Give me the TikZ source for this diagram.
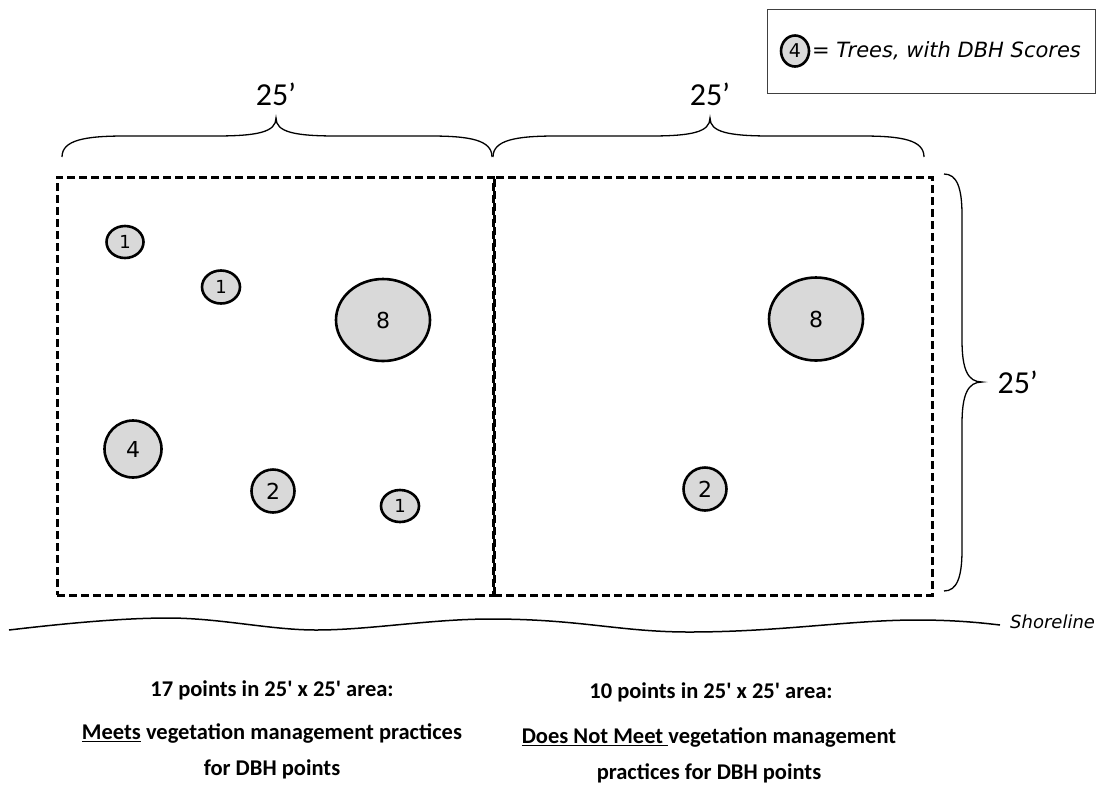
\documentclass[tikz,border=0pt]{standalone}
\usepackage{fontspec}
\usetikzlibrary{shapes.geometric}
\newfontfamily\verdfont{DejaVu Sans}
\newfontfamily\califont{Carlito}
\begin{document}
\begin{tikzpicture}[x=1pt,y=-1pt,
  tree/.style={ellipse,draw=black,line width=2.6pt,fill=black!15,inner sep=0pt,font=\verdfont\fontsize{22}{24}\selectfont},
  smalltree/.style={tree,font=\verdfont\fontsize{18}{20}\selectfont},
  plotbox/.style={draw=black,line width=3pt,dash pattern=on 8pt off 4pt,inner sep=0pt},
  brace/.style={draw=black,line width=1.3pt},
  dim/.style={font=\califont\fontsize{32}{36}\selectfont},
  note/.style={font=\califont\bfseries\fontsize{22.5}{27}\selectfont,align=center}]
\useasboundingbox (0,0) rectangle (1099,793);
% legend
\node[draw=black!75,line width=1pt,minimum width=328pt,minimum height=84pt,inner sep=0pt] (legend) at (931,51) {};
\node[tree,minimum width=28pt,minimum height=31pt,font=\verdfont\fontsize{19}{20}\selectfont] (legtree) at (795,51) {4};
\node[anchor=west,inner sep=0pt,font=\verdfont\itshape\fontsize{21}{24}\selectfont] (legtext) at (812,51) {= Trees, with DBH Scores};
% plots
\node[plotbox,minimum width=436pt,minimum height=418pt] (plotL) at (275,386) {};
\node[plotbox,minimum width=438pt,minimum height=418pt] (plotR) at (713,386) {};
% trees left
\node[smalltree,minimum width=37pt,minimum height=32pt] (t1) at (125,242) {1};
\node[smalltree,minimum width=38pt,minimum height=33pt] (t2) at (221,287) {1};
\node[tree,minimum width=94pt,minimum height=82pt] (t3) at (383,320) {8};
\node[tree,minimum width=57pt,minimum height=57pt] (t4) at (133,449) {4};
\node[tree,minimum width=43pt,minimum height=43pt] (t5) at (273,491) {2};
\node[smalltree,minimum width=38pt,minimum height=32pt] (t6) at (400,506) {1};
% trees right
\node[tree,minimum width=94pt,minimum height=83pt] (t7) at (816,319) {8};
\node[tree,minimum width=43pt,minimum height=43pt] (t8) at (705,489) {2};
% top braces
\draw[brace] (62,157) .. controls (62,140) and (85,136) .. (125,136) -- (215,136) .. controls (258,136) and (276,132) .. (276,118) .. controls (276,132) and (294,136) .. (337,136) -- (430,136) .. controls (470,136) and (492,140) .. (492,157);
\draw[brace] (493,157) .. controls (493,140) and (516,136) .. (556,136) -- (650,136) .. controls (692,136) and (710,132) .. (710,118) .. controls (710,132) and (728,136) .. (771,136) -- (862,136) .. controls (902,136) and (924,140) .. (924,157);
\node[dim] (dimL) at (276,94) {25’};
\node[dim] (dimR) at (710,94) {25’};
% right brace
\draw[brace] (944,174) .. controls (957,174) and (962,188) .. (962,215) -- (962,340) .. controls (962,370) and (968,382) .. (982,382) .. controls (968,382) and (962,394) .. (962,424) -- (962,550) .. controls (962,577) and (957,591) .. (944,591);
\node[dim,anchor=west] (dimV) at (994,382) {25’};
% shoreline
\draw[line width=1.5pt] (9,630) .. controls (60,624) and (120,618) .. (168,618) .. controls (220,618) and (270,630) .. (316,630) .. controls (370,630) and (430,619) .. (491,619) .. controls (580,619) and (620,632) .. (689,632) .. controls (780,632) and (850,620) .. (917,620) .. controls (950,620) and (975,622) .. (1000,625);
\node[anchor=west,inner sep=0pt,font=\verdfont\itshape\fontsize{18}{20}\selectfont] (shore) at (1010,622) {Shoreline};
% notes
\node[note] (n1) at (272,690) {17 points in 25' x 25' area:};
\node[note] (n2) at (272,751) {\underline{Meets} vegetation management practices\\[9pt]for DBH points};
\node[note] (n3) at (711,692) {10 points in 25' x 25' area:};
\node[note] (n4) at (709,755) {\underline{Does Not Meet\ }vegetation  management\\[9pt]practices for DBH points};
\end{tikzpicture}
\end{document}
